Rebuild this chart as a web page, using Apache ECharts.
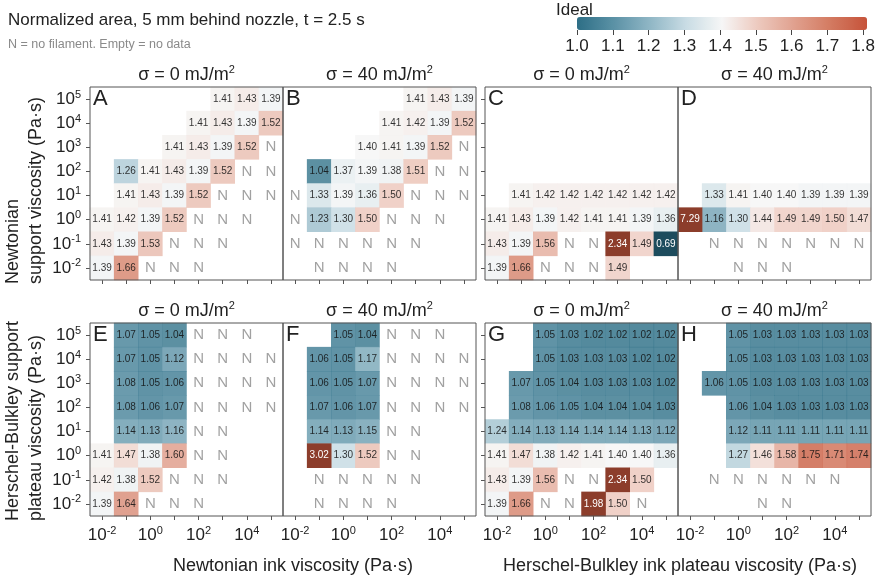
<!DOCTYPE html>
<html><head><meta charset="utf-8">
<script src="https://cdn.jsdelivr.net/npm/echarts@6/dist/echarts.min.js"></script>
<style>html,body{margin:0;padding:0;background:#fff}#c{width:878px;height:579px}</style>
</head><body><div id="c"></div><script>
// ---------------- data ----------------
const exponents = ['-2', '-1', '0', '1', '2', '3', '4', '5']; // tick labels 10^e, x (ink) and y (support)
const N = 'N', _ = null; // N = no filament, null = no data
// rows from top (support 10^5) to bottom (10^-2); columns ink 10^-2 .. 10^5
const panelA = [
  [_, _, _, _, _, 1.41, 1.43, 1.39],
  [_, _, _, _, 1.41, 1.43, 1.39, 1.52],
  [_, _, _, 1.41, 1.43, 1.39, 1.52, N],
  [_, 1.26, 1.41, 1.43, 1.39, 1.52, N, N],
  [_, 1.41, 1.43, 1.39, 1.52, N, N, N],
  [1.41, 1.42, 1.39, 1.52, N, N, N, _],
  [1.43, 1.39, 1.53, N, N, N, _, _],
  [1.39, 1.66, N, N, N, _, _, _]
];
const panelB = [
  [_, _, _, _, _, 1.41, 1.43, 1.39],
  [_, _, _, _, 1.41, 1.42, 1.39, 1.52],
  [_, _, _, 1.40, 1.41, 1.39, 1.52, N],
  [_, 1.04, 1.37, 1.39, 1.38, 1.51, N, N],
  [N, 1.33, 1.39, 1.36, 1.50, N, N, N],
  [N, 1.23, 1.30, 1.50, N, N, N, _],
  [N, N, N, N, N, N, _, _],
  [_, N, N, N, N, _, _, _]
];
const panelC = [
  [_, _, _, _, _, _, _, _],
  [_, _, _, _, _, _, _, _],
  [_, _, _, _, _, _, _, _],
  [_, _, _, _, _, _, _, _],
  [_, 1.41, 1.42, 1.42, 1.42, 1.42, 1.42, 1.42],
  [1.41, 1.43, 1.39, 1.42, 1.41, 1.41, 1.39, 1.36],
  [1.43, 1.39, 1.56, N, N, 2.34, 1.49, 0.69],
  [1.39, 1.66, N, N, N, 1.49, _, _]
];
const panelD = [
  [_, _, _, _, _, _, _, _],
  [_, _, _, _, _, _, _, _],
  [_, _, _, _, _, _, _, _],
  [_, _, _, _, _, _, _, _],
  [_, 1.33, 1.41, 1.40, 1.40, 1.39, 1.39, 1.39],
  [7.29, 1.16, 1.30, 1.44, 1.49, 1.49, 1.50, 1.47],
  [_, N, N, N, N, N, N, N],
  [_, _, N, N, N, _, _, _]
];
const panelE = [
  [_, 1.07, 1.05, 1.04, N, N, N, _],
  [_, 1.07, 1.05, 1.12, N, N, N, N],
  [_, 1.08, 1.05, 1.06, N, N, N, N],
  [_, 1.08, 1.06, 1.07, N, N, N, N],
  [_, 1.14, 1.13, 1.16, N, N, _, _],
  [1.41, 1.47, 1.38, 1.60, N, N, _, _],
  [1.42, 1.38, 1.52, N, N, N, _, _],
  [1.39, 1.64, N, N, N, _, _, _]
];
const panelF = [
  [_, _, 1.05, 1.04, N, N, N, _],
  [_, 1.06, 1.05, 1.17, N, N, N, N],
  [_, 1.06, 1.05, 1.07, N, N, N, N],
  [_, 1.07, 1.06, 1.07, N, N, N, N],
  [_, 1.14, 1.13, 1.15, N, N, _, _],
  [_, 3.02, 1.30, 1.52, N, N, _, _],
  [_, N, N, N, N, N, _, _],
  [_, N, N, N, N, _, _, _]
];
const panelG = [
  [_, _, 1.05, 1.03, 1.02, 1.02, 1.02, 1.02],
  [_, _, 1.05, 1.03, 1.03, 1.03, 1.02, 1.02],
  [_, 1.07, 1.05, 1.04, 1.03, 1.03, 1.03, 1.02],
  [_, 1.08, 1.06, 1.05, 1.04, 1.04, 1.04, 1.03],
  [1.24, 1.14, 1.13, 1.14, 1.14, 1.14, 1.13, 1.12],
  [1.41, 1.47, 1.38, 1.42, 1.41, 1.40, 1.40, 1.36],
  [1.43, 1.39, 1.56, N, N, 2.34, 1.50, _],
  [1.39, 1.66, N, N, 1.98, 1.50, N, _]
];
const panelH = [
  [_, _, 1.05, 1.03, 1.03, 1.03, 1.03, 1.03],
  [_, _, 1.05, 1.03, 1.03, 1.03, 1.03, 1.03],
  [_, 1.06, 1.05, 1.03, 1.03, 1.03, 1.03, 1.03],
  [_, _, 1.06, 1.04, 1.03, 1.03, 1.03, 1.03],
  [_, _, 1.12, 1.11, 1.11, 1.11, 1.11, 1.11],
  [_, _, 1.27, 1.46, 1.58, 1.75, 1.71, 1.74],
  [_, N, N, N, N, N, N, _],
  [_, _, _, N, N, _, _, _]
];
const panelLetters = ['A', 'B', 'C', 'D', 'E', 'F', 'G', 'H'];
const panelSigma = ['0', '40', '0', '40', '0', '40', '0', '40'];
const colorbarMin = 1.0, colorbarMax = 1.8, colorbarStep = 0.1;

// ---------------- layout / style ----------------
const panels = [panelA, panelB, panelC, panelD, panelE, panelF, panelG, panelH];
const FONT = "'Liberation Sans', Arial, Helvetica, sans-serif";
const TXT = '#222';
const gridLeft = [90, 283, 485, 678], gridTop = [87, 323], SIZE = 193;
const CB_COLORS = ['#2d6e86', '#5a91a5', '#8fb6c5', '#c8dce4', '#f6f6f6', '#edc9be', '#e0a08e', '#d37a61', '#c6533a'];
const HIGH = '#8c3d2b', LOW = '#1d4c5d';
const supRich = {
  b: { fontSize: 17, fontFamily: FONT, color: TXT, lineHeight: 20 },
  s: { fontSize: 11, fontFamily: FONT, color: TXT, verticalAlign: 'top' }
};
const powFmt = v => '{b|10}{s|' + v + '}';

const grids = [], xAxes = [], yAxes = [], series = [], graphics = [], inRangeIdx = [];
panels.forEach((pd, i) => {
  const col = i % 4, row = Math.floor(i / 4);
  const L = gridLeft[col], T = gridTop[row];
  grids.push({ left: L, top: T, width: SIZE, height: SIZE, show: true, borderColor: '#555', borderWidth: 1, backgroundColor: 'transparent', z: 5 });
  xAxes.push({
    gridIndex: i, type: 'category', data: exponents, boundaryGap: true,
    axisLine: { show: false },
    axisTick: { show: true, alignWithLabel: true, interval: 0, length: 4, lineStyle: { color: '#555' } },
    axisLabel: { show: row === 1, interval: 1, margin: 9, formatter: powFmt, rich: supRich },
    splitLine: { show: false }
  });
  yAxes.push({
    gridIndex: i, type: 'category', data: exponents, boundaryGap: true,
    axisLine: { show: false },
    axisTick: { show: col === 0 || col === 2, alignWithLabel: true, interval: 0, length: 4, lineStyle: { color: '#555' } },
    axisLabel: { show: col === 0, interval: 0, margin: 9, formatter: powFmt, rich: supRich },
    splitLine: { show: false }
  });
  const inData = [], outData = [], nData = [];
  pd.forEach((r, ri) => r.forEach((v, c) => {
    const y = 7 - ri;
    if (v === N) nData.push([c, y]);
    else if (typeof v === 'number') {
      if (v >= colorbarMin && v <= colorbarMax) inData.push([c, y, v]);
      else outData.push({ value: [c, y, v], itemStyle: { color: v > colorbarMax ? HIGH : LOW } });
    }
  }));
  const cellLabel = color => ({ show: true, color: color, fontSize: 10, fontFamily: FONT, formatter: p => p.value[2].toFixed(2) });
  inRangeIdx.push(series.length);
  series.push({ type: 'heatmap', xAxisIndex: i, yAxisIndex: i, data: inData, silent: true, itemStyle: { opacity: 0.85 }, label: cellLabel('#111'), emphasis: { disabled: true } });
  series.push({ type: 'heatmap', xAxisIndex: i, yAxisIndex: i, data: outData, silent: true, label: cellLabel('#fff'), emphasis: { disabled: true } });
  series.push({ type: 'scatter', xAxisIndex: i, yAxisIndex: i, data: nData, silent: true, symbol: 'rect', symbolSize: 1,
    itemStyle: { color: 'rgba(0,0,0,0)' },
    label: { show: true, position: 'inside', formatter: 'N', color: '#8a8a8a', fontSize: 15, fontFamily: FONT } });
  // panel letter
  graphics.push({ type: 'text', x: L + 3, y: T + 1, z: 10, style: { text: panelLetters[i], font: '22px ' + FONT, fill: TXT, align: 'left', verticalAlign: 'top' } });
  // panel title
  graphics.push({ type: 'text', x: L + SIZE / 2, y: T - 12, z: 10, style: {
    text: '{a|σ = ' + panelSigma[i] + ' mJ/m}{s|2}', align: 'center', verticalAlign: 'middle',
    rich: { a: { fontSize: 18, fontFamily: FONT, fill: TXT, color: TXT, lineHeight: 22 }, s: { fontSize: 11, fontFamily: FONT, fill: TXT, color: TXT, verticalAlign: 'top' } }
  } });
});

// colorbar tick axis
grids.push({ left: 577, top: 17, width: 290, height: 13, show: false });
xAxes.push({ gridIndex: 8, type: 'value', min: colorbarMin, max: colorbarMax, interval: colorbarStep,
  axisLine: { show: false }, axisTick: { show: true, length: 5, lineStyle: { color: '#444' } },
  axisLabel: { fontSize: 17, fontFamily: FONT, color: TXT, margin: 8, showMinLabel: true, showMaxLabel: true, formatter: v => v.toFixed(1) },
  splitLine: { show: false } });
yAxes.push({ gridIndex: 8, type: 'value', show: false });

graphics.push(
  { type: 'text', x: 8, y: 20, style: { text: 'Normalized area, 5 mm behind nozzle, t = 2.5 s', font: '17px ' + FONT, fill: TXT, align: 'left', verticalAlign: 'middle' } },
  { type: 'text', x: 8, y: 45, style: { text: 'N = no filament. Empty = no data', font: '12.5px ' + FONT, fill: '#8a8a8a', align: 'left', verticalAlign: 'middle' } },
  { type: 'text', x: 556, y: 2, style: { text: 'Ideal', font: '17px ' + FONT, fill: TXT, align: 'left', verticalAlign: 'top' } },
  { type: 'text', x: 293, y: 566, style: { text: 'Newtonian ink viscosity (Pa·s)', font: '18px ' + FONT, fill: TXT, align: 'center', verticalAlign: 'middle' } },
  { type: 'text', x: 680, y: 566, style: { text: 'Herschel-Bulkley ink plateau viscosity (Pa·s)', font: '18px ' + FONT, fill: TXT, align: 'center', verticalAlign: 'middle' } },
  { type: 'text', x: 2, y: 284, rotation: Math.PI / 2, style: { text: 'Newtonian\nsupport viscosity (Pa·s)', font: '18px ' + FONT, fill: TXT, align: 'left', verticalAlign: 'top', lineHeight: 23 } },
  { type: 'text', x: 2, y: 521, rotation: Math.PI / 2, style: { text: 'Herschel-Bulkley support\nplateau viscosity (Pa·s)', font: '18px ' + FONT, fill: TXT, align: 'left', verticalAlign: 'top', lineHeight: 23 } }
);

const chart = echarts.init(document.getElementById('c'), null, { renderer: 'canvas' });
chart.setOption({
  animation: false,
  textStyle: { fontFamily: FONT },
  grid: grids, xAxis: xAxes, yAxis: yAxes,
  visualMap: [{
    type: 'continuous', min: colorbarMin, max: colorbarMax, seriesIndex: inRangeIdx, dimension: 2,
    orient: 'horizontal', left: 577, top: 17, itemWidth: 13, itemHeight: 290, padding: 0,
    calculable: false, hoverLink: false, text: null, inRange: { color: CB_COLORS }
  }],
  graphic: graphics,
  series: series
});
</script></body></html>
